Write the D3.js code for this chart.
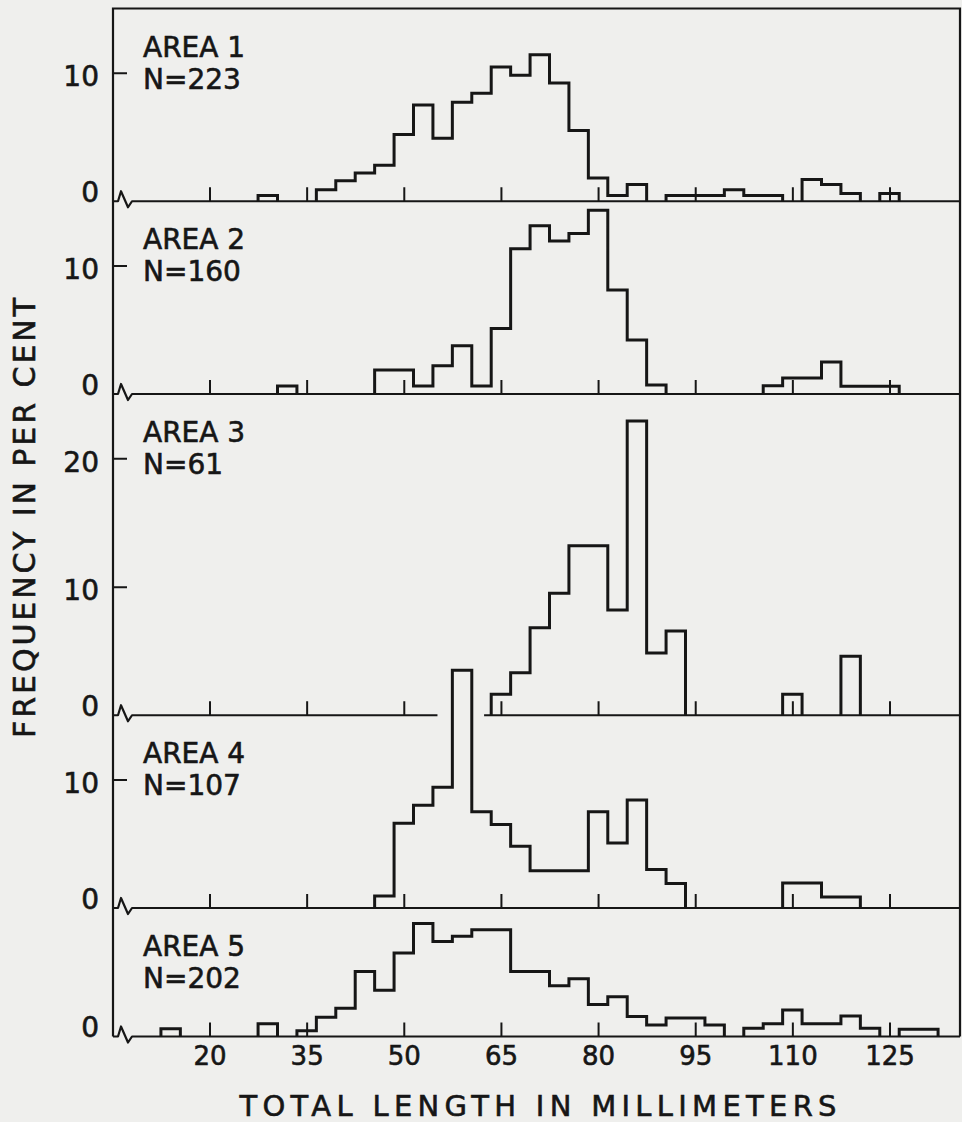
<!DOCTYPE html>
<html lang="en">
<head>
<meta charset="UTF-8">
<title>Total length frequency by area</title>
<script src="https://cdn.jsdelivr.net/npm/d3@7/dist/d3.min.js"></script>
<style>
  body { margin: 0; background: #efefed; }
  svg { display: block; }
  .lbl { font-family: "DejaVu Sans", sans-serif; fill: #161616; stroke: #161616; stroke-width: 0.6; }
  .axis text { font-family: "DejaVu Sans", sans-serif; fill: #161616; stroke: #161616; stroke-width: 0.6; }
  .axis line { stroke: #161616; stroke-width: 2; }
</style>
</head>
<body>
<script>

// bin centres in mm, 3 mm classes
var binCenters = [14, 17, 20, 23, 26, 29, 32, 35, 38, 41, 44, 47, 50, 53, 56, 59, 62, 65, 68, 71,
                  74, 77, 80, 83, 86, 89, 92, 95, 98, 101, 104, 107, 110, 113, 116, 119, 122, 125, 128, 131];
var binWidth = 3;

// frequency in per cent, one value per bin
var area1 = [0, 0, 0, 0, 0, 0.45, 0, 0, 0.9, 1.6, 2.2, 2.8, 5.2, 7.5, 4.9, 7.7, 8.4, 10.45, 9.8, 11.4,
             9.2, 5.5, 1.8, 0.45, 1.3, 0, 0.45, 0.45, 0.45, 0.9, 0.45, 0.45, 0, 1.7, 1.3, 0.6, 0, 0.6, 0, 0];
var area2 = [0, 0, 0, 0, 0, 0, 0.625, 0, 0, 0, 0, 1.875, 1.875, 0.625, 2.2, 3.75, 0.625, 5.1, 11.3, 13.1,
             11.9, 12.5, 14.3, 8.1, 4.2, 0.7, 0, 0, 0, 0, 0, 0.65, 1.25, 1.25, 2.5, 0.6, 0.6, 0.6, 0, 0];
var area3 = [0, 0, 0, 0, 0, 0, 0, 0, 0, 0, 0, 0, 0, 0, 0, 0, 0, 1.64, 3.3, 6.8,
             9.5, 13.2, 13.2, 8.2, 22.9, 4.85, 6.56, 0, 0, 0, 0, 0, 1.64, 0, 0, 4.6, 0, 0, 0, 0];
var area4 = [0, 0, 0, 0, 0, 0, 0, 0, 0, 0, 0, 0.935, 6.6, 8.0, 9.4, 18.5, 7.5, 6.5, 4.8, 2.9,
             2.9, 2.9, 7.5, 5.06, 8.4, 3.0, 1.9, 0, 0, 0, 0, 0, 1.95, 1.95, 0.86, 0.86, 0, 0, 0, 0];
var area5 = [0.6, 0, 0, 0, 0, 0.99, 0, 0.45, 1.5, 2.2, 5.06, 3.6, 6.5, 8.8, 7.4, 7.8, 8.3, 8.3, 5.06, 5.06,
             3.94, 4.5, 2.5, 3.1, 1.56, 0.9, 1.43, 1.43, 0.9, 0, 0.65, 0.99, 2.07, 0.99, 0.99, 1.6, 0.65, 0, 0.57, 0.57];

var areaValues = [area1, area2, area3, area4, area5];
var areaNames = ["AREA 1", "AREA 2", "AREA 3", "AREA 4", "AREA 5"];
var areaN = ["N=223", "N=160", "N=61", "N=107", "N=202"];
var yMax = [15, 15, 25, 15, 10];
var yTicks = [[0, 10], [0, 10], [0, 10, 20], [0, 10], [0]];
var xTicks = [20, 35, 50, 65, 80, 95, 110, 125];
// stretch of the base line left out (mm)
var baseGaps = [[], [], [[55.2, 62.4]], [], []];

var W = 962, H = 1122;
var axisX = 113, rightX = 960, topY = 8.5, pxPerPct = 12.85;
var ink = "#161616";

var svg = d3.select("body").append("svg")
  .attr("width", W)
  .attr("height", H);

svg.append("rect").attr("width", W).attr("height", H).attr("fill", "#efefed");

var x = d3.scaleLinear().domain([20, 125]).range([209.5, 889.5]);

// stack panels top to bottom
var scales = [];
var y0 = topY;
yMax.forEach(function(m) {
  var h = m * pxPerPct;
  scales.push(d3.scaleLinear().domain([0, m]).range([y0 + h, y0]));
  y0 += h;
});
var bottomY = y0;

function histPath(vals, y) {
  var p = d3.path();
  vals.forEach(function(v, j) {
    if (!v) return;
    var L = x(binCenters[j] - binWidth / 2), R = x(binCenters[j] + binWidth / 2);
    var prev = j > 0 ? vals[j - 1] : 0;
    var next = j < vals.length - 1 ? vals[j + 1] : 0;
    if (!prev) p.moveTo(L, y(0));
    p.lineTo(L, y(v));
    p.lineTo(R, y(v));
    if (!next) p.lineTo(R, y(0));
  });
  return p.toString();
}

// frame
svg.append("path")
  .attr("d", "M" + axisX + "," + bottomY + "V" + topY + "H" + rightX + "V" + bottomY)
  .attr("fill", "none").attr("stroke", ink).attr("stroke-width", 2.2);

areaValues.forEach(function(vals, i) {
  var y = scales[i];
  var b = y(0);
  var g = svg.append("g");

  // base line with the axis break squiggle
  var d = "M" + axisX + "," + b + "h5l3,-10l7,16l4,-6";
  baseGaps[i].forEach(function(gap) {
    d += "L" + x(gap[0]) + "," + b + "M" + x(gap[1]) + "," + b;
  });
  d += "L" + rightX + "," + b;
  g.append("path").attr("d", d).attr("fill", "none")
    .attr("stroke", ink).attr("stroke-width", 2.2).attr("stroke-linejoin", "round");

  // x ticks on every base line, labels only at the bottom
  var xa = g.append("g").attr("class", "axis")
    .attr("transform", "translate(0," + b + ")")
    .call(d3.axisBottom(x).tickValues(xTicks).tickSize(-14).tickPadding(10)
      .tickFormat(i === areaValues.length - 1 ? d3.format("d") : ""));
  xa.select(".domain").remove();
  xa.selectAll("text").attr("font-size", 26);

  // y ticks
  var ya = g.append("g").attr("class", "axis")
    .attr("transform", "translate(" + axisX + ",0)")
    .call(d3.axisLeft(y).tickValues(yTicks[i]).tickSize(-14).tickPadding(14));
  ya.select(".domain").remove();
  ya.selectAll(".tick").filter(function(t) { return t === 0; }).select("line").remove();
  ya.selectAll("text")
    .attr("font-size", 28)
    .attr("dy", function(t) { return t === 0 ? "0em" : "0.47em"; });

  // histogram
  g.append("path").attr("d", histPath(vals, y))
    .attr("fill", "none").attr("stroke", ink).attr("stroke-width", 3)
    .attr("stroke-linejoin", "miter");

  // area label
  var top = y(yMax[i]);
  g.append("text").attr("class", "lbl").attr("x", 143).attr("y", top + 48)
    .attr("font-size", 28).text(areaNames[i]);
  g.append("text").attr("class", "lbl").attr("x", 143).attr("y", top + 80)
    .attr("font-size", 28).text(areaN[i]);
});

// axis titles
svg.append("text").attr("class", "lbl")
  .attr("x", 538).attr("y", 1116)
  .attr("text-anchor", "middle").attr("font-size", 29)
  .attr("textLength", 597).attr("lengthAdjust", "spacing")
  .text("TOTAL LENGTH IN MILLIMETERS");

svg.append("text").attr("class", "lbl")
  .attr("transform", "translate(35,518) rotate(-90)")
  .attr("text-anchor", "middle").attr("font-size", 30)
  .attr("textLength", 440).attr("lengthAdjust", "spacing")
  .text("FREQUENCY IN PER CENT");

</script>
</body>
</html>
